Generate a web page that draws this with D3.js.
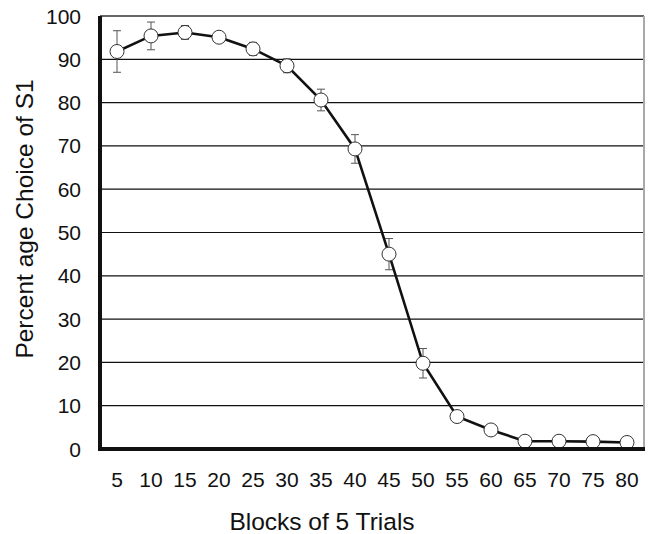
<!DOCTYPE html>
<html>
<head>
<meta charset="utf-8">
<script src="https://cdn.jsdelivr.net/npm/d3@7"></script>
<style>
  body { margin: 0; background: #fff; }
  text { font-family: "Liberation Sans", Arial, sans-serif; fill: #111; }
</style>
</head>
<body>
<svg id="chart" width="648" height="534"></svg>
<script>
// data
const blocks = [5, 10, 15, 20, 25, 30, 35, 40, 45, 50, 55, 60, 65, 70, 75, 80]
const percentS1 = [91.8, 95.4, 96.2, 95.1, 92.4, 88.5, 80.6, 69.3, 45.0, 19.8, 7.5, 4.4, 1.8, 1.8, 1.7, 1.5]
const errS1 = [4.8, 3.2, 1.6, 1.0, 1.5, 1.6, 2.5, 3.3, 3.6, 3.4, 1.0, 1.0, 0.6, 0.6, 0.6, 0.6]
const yTicks = [0, 10, 20, 30, 40, 50, 60, 70, 80, 90, 100]

const plotLeft = 100, plotRight = 644, plotTop = 16, plotBottom = 449

const svg = d3.select("#chart")

const x = d3.scaleBand().domain(blocks).range([plotLeft, plotRight]).padding(0)
const y = d3.scaleLinear().domain([0, 100]).range([plotBottom, plotTop])

const cx = d => x(d) + x.bandwidth() / 2

// gridlines
svg.append("g")
    .selectAll("line")
    .data(yTicks.filter(t => t > 0 && t < 100))
    .enter()
    .append("line")
    .attr("x1", plotLeft).attr("x2", plotRight)
    .attr("y1", d => y(d)).attr("y2", d => y(d))
    .attr("stroke", "#111").attr("stroke-width", 1.2)

// top and right frame
svg.append("line")
    .attr("x1", plotLeft).attr("x2", plotRight)
    .attr("y1", y(100)).attr("y2", y(100))
    .attr("stroke", "#333").attr("stroke-width", 1.5)
svg.append("line")
    .attr("x1", plotRight).attr("x2", plotRight)
    .attr("y1", y(100)).attr("y2", plotBottom)
    .attr("stroke", "#aaa").attr("stroke-width", 2)

// y tick labels
svg.append("g")
    .selectAll("text")
    .data(yTicks)
    .enter()
    .append("text")
    .attr("x", 81)
    .attr("y", d => y(d))
    .attr("dy", "0.36em")
    .attr("text-anchor", "end")
    .attr("font-size", 21)
    .text(d => d)

// x tick labels
svg.append("g")
    .selectAll("text")
    .data(blocks)
    .enter()
    .append("text")
    .attr("x", d => cx(d))
    .attr("y", 487)
    .attr("text-anchor", "middle")
    .attr("font-size", 21)
    .text(d => d)

// error bars
const errs = svg.append("g")
    .selectAll("g")
    .data(blocks.map((b, i) => ({ b: b, v: percentS1[i], e: errS1[i] })))
    .enter()
    .append("g")
    .attr("stroke", "#555").attr("stroke-width", 1)

errs.append("line")
    .attr("x1", d => cx(d.b)).attr("x2", d => cx(d.b))
    .attr("y1", d => y(d.v + d.e)).attr("y2", d => y(d.v - d.e))
errs.append("line")
    .attr("x1", d => cx(d.b) - 4).attr("x2", d => cx(d.b) + 4)
    .attr("y1", d => y(d.v + d.e)).attr("y2", d => y(d.v + d.e))
errs.append("line")
    .attr("x1", d => cx(d.b) - 4).attr("x2", d => cx(d.b) + 4)
    .attr("y1", d => y(d.v - d.e)).attr("y2", d => y(d.v - d.e))

// the line
const line = d3.line()
    .x((d, i) => cx(blocks[i]))
    .y(d => y(d))

svg.append("path")
    .datum(percentS1)
    .attr("d", line)
    .attr("fill", "none")
    .attr("stroke", "#111")
    .attr("stroke-width", 2.6)

// markers
svg.append("g")
    .selectAll("circle")
    .data(percentS1)
    .enter()
    .append("circle")
    .attr("cx", (d, i) => cx(blocks[i]))
    .attr("cy", d => y(d))
    .attr("r", 7)
    .attr("fill", "#fff")
    .attr("stroke", "#333")
    .attr("stroke-width", 1)

// thick axes
svg.append("line")
    .attr("x1", plotLeft).attr("x2", plotLeft)
    .attr("y1", y(100)).attr("y2", plotBottom + 2)
    .attr("stroke", "#111").attr("stroke-width", 4)
svg.append("line")
    .attr("x1", plotLeft - 2).attr("x2", plotRight + 1)
    .attr("y1", plotBottom).attr("y2", plotBottom)
    .attr("stroke", "#111").attr("stroke-width", 4)

// axis titles
svg.append("text")
    .attr("transform", "translate(33,219) rotate(-90)")
    .attr("text-anchor", "middle")
    .attr("font-size", 24.5)
    .text("Percent age Choice of S1")

svg.append("text")
    .attr("x", 322)
    .attr("y", 530)
    .attr("text-anchor", "middle")
    .attr("font-size", 24.5)
    .text("Blocks of 5 Trials")
</script>
</body>
</html>
